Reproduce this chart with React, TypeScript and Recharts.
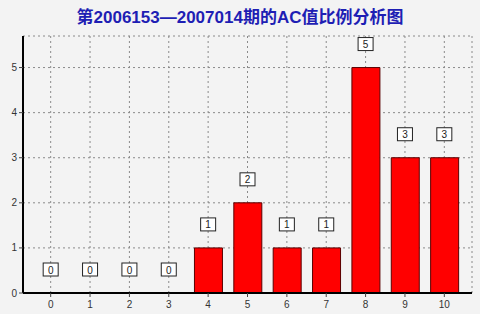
import { ComposedChart, Bar, Scatter, XAxis, YAxis, CartesianGrid } from 'recharts'

const acValues = ['0', '1', '2', '3', '4', '5', '6', '7', '8', '9', '10']
const counts = [0, 0, 0, 0, 1, 2, 1, 1, 5, 3, 3]
const yTicks = [0, 1, 2, 3, 4, 5]

const data = acValues.map((ac, i) => ({ ac, count: counts[i] }))

// little white box with the count, sitting above each bar (zero bars too)
const CountBox = (props: any) => {
  const { cx, cy, payload } = props
  const bottom = cy - 17
  return (
    <g>
      <rect x={cx - 7.5} y={bottom - 13} width={15} height={13} fill="#ffffff" stroke="#222" strokeWidth={1} />
      <text
        x={cx}
        y={bottom - 6}
        textAnchor="middle"
        dominantBaseline="central"
        fontSize={10}
        style={{ fill: '#222', stroke: 'none' }}
      >
        {payload.count}
      </text>
    </g>
  )
}

export default function App() {
  return (
    <div style={{ position: 'absolute', left: 0, top: 0, width: 480, height: 314, background: '#f3f3f3', fontFamily: 'Arial, "Liberation Sans", sans-serif' }}>
      <div
        style={{
          position: 'absolute',
          left: 0,
          top: 8,
          width: 480,
          textAlign: 'center',
          color: '#1e1eb4',
          fontWeight: 'bold',
          fontSize: 17,
          fontFamily: 'Arial, "Liberation Sans", "Noto Sans CJK SC", sans-serif',
          lineHeight: '20px',
        }}
      >
        第2006153—2007014期的AC值比例分析图
      </div>
      <ComposedChart width={480} height={314} data={data} margin={{ top: 36, right: 8, left: 0, bottom: 0 }}>
        <CartesianGrid stroke="#8a8a8a" strokeDasharray="2 3" />
        <XAxis
          dataKey="ac"
          height={21}
          padding={{ left: 8, right: 8 }}
          axisLine={{ stroke: '#000', strokeWidth: 2 }}
          tickLine={{ stroke: '#444' }}
          tickSize={4}
          tick={{ fontSize: 10, fill: '#333', dy: 2 }}
          interval={0}
        />
        <XAxis xAxisId="top" orientation="top" dataKey="ac" height={0} tick={false} tickLine={false} axisLine={{ stroke: '#666', strokeWidth: 2 }} />
        <YAxis
          width={23}
          domain={[0, 5.7]}
          ticks={yTicks}
          axisLine={{ stroke: '#000', strokeWidth: 2 }}
          tickLine={{ stroke: '#444' }}
          tickSize={4}
          tick={{ fontSize: 10, fill: '#333' }}
          allowDataOverflow
        />
        <YAxis yAxisId="right" orientation="right" width={0} domain={[0, 5.7]} tick={false} tickLine={false} axisLine={{ stroke: '#666', strokeWidth: 2 }} />
        <Bar dataKey="count" fill="#ff0000" stroke="#5a0000" strokeWidth={1} barSize={28} isAnimationActive={false} />
        <Scatter dataKey="count" fill="#ffffff" shape={<CountBox />} isAnimationActive={false} />
      </ComposedChart>
    </div>
  )
}
